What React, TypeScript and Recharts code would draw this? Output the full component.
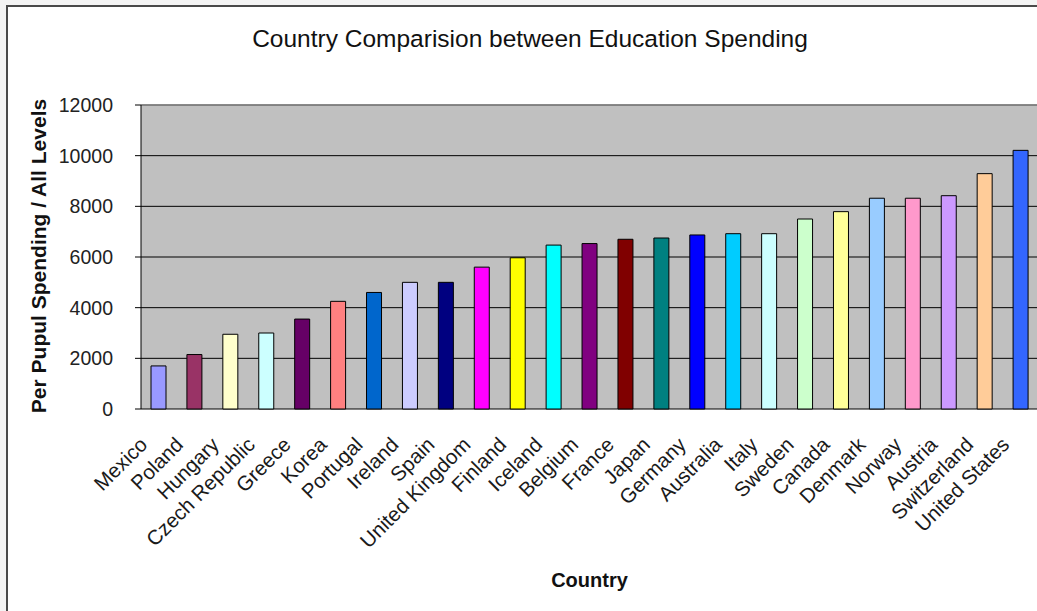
import React from 'react';
import { BarChart, Bar, Cell, XAxis, YAxis, CartesianGrid, ReferenceLine, Label } from 'recharts';

const countries = [
    'Mexico', 'Poland', 'Hungary', 'Czech Republic', 'Greece', 'Korea', 'Portugal', 'Ireland', 'Spain',
    'United Kingdom', 'Finland', 'Iceland', 'Belgium', 'France', 'Japan', 'Germany', 'Australia', 'Italy',
    'Sweden', 'Canada', 'Denmark', 'Norway', 'Austria', 'Switzerland', 'United States',
];

const spending = [
    1700, 2150, 2950, 3000, 3550, 4250, 4600, 5000, 5000,
    5600, 5970, 6470, 6530, 6700, 6750, 6870, 6920, 6920,
    7500, 7790, 8320, 8320, 8420, 9290, 10210,
];

const barColors = [
    '#9999FF', '#993366', '#FFFFCC', '#CCFFFF', '#660066', '#FF8080', '#0066CC', '#CCCCFF', '#000080',
    '#FF00FF', '#FFFF00', '#00FFFF', '#800080', '#800000', '#008080', '#0000FF', '#00CCFF', '#CCFFFF',
    '#CCFFCC', '#FFFF99', '#99CCFF', '#FF99CC', '#CC99FF', '#FFCC99', '#3366FF',
];

const yTicks = [0, 2000, 4000, 6000, 8000, 10000, 12000];

const chartTitle = 'Country Comparision between Education Spending';
const xTitle = 'Country';
const yTitle = 'Per Pupul Spending / All Levels';

const data = countries.map((name, i) => ({ name, value: spending[i] }));
const edgeTicks = Array.from({ length: countries.length + 1 }, (_, i) => i);

const FONT = '"Liberation Sans", Arial, sans-serif';

// rotated country names, end of text sits just left of the bar centre
const CountryTick = (props: any) => {
    const { x, y, payload } = props;
    const ex = x - 10.5;
    const ey = y + 37;
    return (
        <text
            x={ex}
            y={ey}
            transform={`rotate(-45 ${ex} ${ey})`}
            textAnchor="end"
            fontSize={20.5}
            fontFamily={FONT}
            fill="#1a1a1a"
        >
            {payload.value}
        </text>
    );
};

const App: React.FC = () => {
    return (
        <div
            style={{
                position: 'fixed',
                left: 0,
                top: 0,
                width: 1037,
                height: 611,
                overflow: 'hidden',
                background: '#f4f4f4',
                fontFamily: FONT,
            }}
        >
            <div
                style={{
                    position: 'absolute',
                    left: 6,
                    top: 5,
                    width: 1100,
                    height: 700,
                    border: '2px solid #4a4a4a',
                    background: '#ffffff',
                    boxSizing: 'border-box',
                }}
            />
            <div
                style={{
                    position: 'absolute',
                    left: 0,
                    top: 27,
                    width: 1060,
                    textAlign: 'center',
                    fontSize: 24.5,
                    lineHeight: '24.5px',
                    color: '#111',
                    whiteSpace: 'nowrap',
                }}
            >
                {chartTitle}
            </div>
            <BarChart
                width={1040}
                height={611}
                data={data}
                margin={{ top: 105, right: 1, bottom: 52, left: 81 }}
                style={{ position: 'absolute', left: 0, top: 0, fontFamily: FONT }}
            >
                <CartesianGrid xAxisId="cat" vertical={false} stroke="#000" fill="#C0C0C0" fillOpacity={1} />
                <ReferenceLine xAxisId="cat" y={12000} stroke="#8c8c8c" strokeWidth={1.5} />
                {/* boundary ticks between categories */}
                <XAxis
                    xAxisId="edges"
                    type="number"
                    domain={[0, countries.length]}
                    ticks={edgeTicks}
                    interval={0}
                    tick={false}
                    tickSize={6}
                    height={0}
                    axisLine={{ stroke: '#000' }}
                    tickLine={{ stroke: '#000' }}
                    allowDataOverflow
                />
                <XAxis
                    xAxisId="cat"
                    dataKey="name"
                    interval={0}
                    height={150}
                    tickSize={0}
                    tickMargin={0}
                    axisLine={false}
                    tickLine={false}
                    tick={<CountryTick />}
                >
                    <Label
                        content={() => (
                            <text x={589.5} y={587} textAnchor="middle" fontSize={20} fontWeight="bold" fontFamily={FONT} fill="#111">
                                {xTitle}
                            </text>
                        )}
                    />
                </XAxis>
                <YAxis
                    domain={[0, 12000]}
                    ticks={yTicks}
                    interval={0}
                    width={60}
                    tickSize={6}
                    tickMargin={22}
                    axisLine={{ stroke: '#000' }}
                    tickLine={{ stroke: '#000' }}
                    tick={{ fill: '#222', fontSize: 19.5, fontFamily: FONT }}
                >
                    <Label
                        content={() => (
                            <text
                                x={45.5}
                                y={256}
                                transform="rotate(-90 45.5 256)"
                                textAnchor="middle"
                                fontSize={21}
                                fontWeight="bold"
                                fontFamily={FONT}
                                fill="#111"
                            >
                                {yTitle}
                            </text>
                        )}
                    />
                </YAxis>
                <Bar xAxisId="cat" dataKey="value" barSize={15} stroke="#000" strokeWidth={1} isAnimationActive={false}>
                    {data.map((d, i) => (
                        <Cell key={d.name} fill={barColors[i]} />
                    ))}
                </Bar>
            </BarChart>
        </div>
    );
};

export default App;
